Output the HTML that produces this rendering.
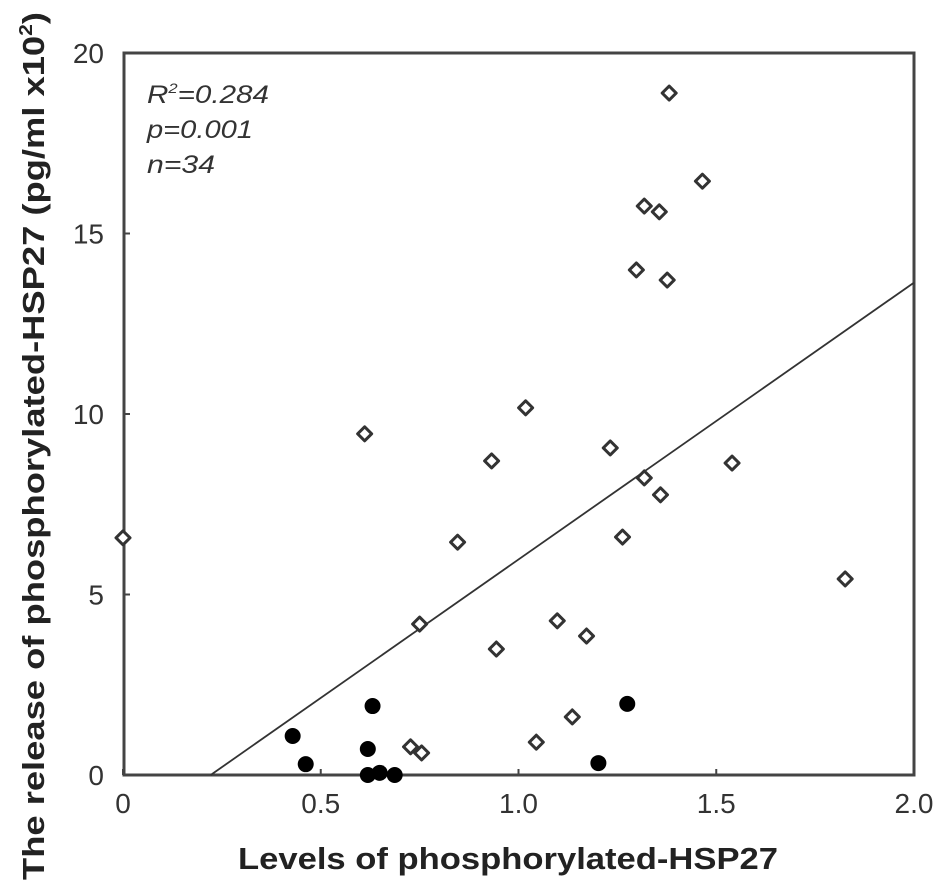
<!DOCTYPE html>
<html><head><meta charset="utf-8"><style>
html,body{margin:0;padding:0;background:#fff;width:945px;height:894px;overflow:hidden}
svg{display:block;font-family:"Liberation Sans",sans-serif}
</style></head><body>
<svg id="chart" width="945" height="894" viewBox="0 0 945 894">
<rect x="124" y="53" width="790" height="722" fill="none" stroke="#444" stroke-width="3"/>
<g id="ticks"></g>
<g id="marks"></g>
<text x="147" y="103" font-size="25" font-style="italic" fill="#333" textLength="122" lengthAdjust="spacingAndGlyphs">R<tspan font-size="14" dy="-10">2</tspan><tspan dy="10">=0.284</tspan></text>
<text x="147" y="138" font-size="25" font-style="italic" fill="#333" textLength="106" lengthAdjust="spacingAndGlyphs">p=0.001</text>
<text x="147" y="173" font-size="25" font-style="italic" fill="#333" textLength="68" lengthAdjust="spacingAndGlyphs">n=34</text>
<text x="508" y="869" font-size="31" font-weight="bold" text-anchor="middle" fill="#222" textLength="540" lengthAdjust="spacingAndGlyphs">Levels of phosphorylated-HSP27</text>
<text transform="translate(44,446) rotate(-90)" font-size="31" font-weight="bold" text-anchor="middle" fill="#222" textLength="868" lengthAdjust="spacingAndGlyphs">The release of phosphorylated-HSP27 (pg/ml x10<tspan font-size="18" dy="-12">2</tspan><tspan dy="12">)</tspan></text>
</svg>
<script>
const xTicks = [0, 0.5, 1.0, 1.5, 2.0];
const xTickLabels = ["0", "0.5", "1.0", "1.5", "2.0"];
const yTicks = [0, 5, 10, 15, 20];
const yTickLabels = ["0", "5", "10", "15", "20"];
const openX = [0, 0.611, 0.727, 0.755, 0.75, 0.846, 0.932, 0.944, 1.018, 1.045, 1.098, 1.172, 1.136, 1.232, 1.263, 1.318, 1.359, 1.298, 1.318, 1.356, 1.376, 1.381, 1.465, 1.540, 1.826];
const openY = [6.57, 9.45, 0.78, 0.61, 4.18, 6.45, 8.7, 3.49, 10.17, 0.91, 4.27, 3.85, 1.61, 9.06, 6.59, 8.23, 7.76, 13.99, 15.76, 15.6, 13.71, 18.89, 16.45, 8.64, 5.43];
const filledX = [0.429, 0.462, 0.631, 0.619, 0.619, 0.649, 0.687, 1.202, 1.275];
const filledY = [1.08, 0.3, 1.91, 0.72, 0, 0.06, 0, 0.33, 1.97];
const fitSlope = 7.67;
const fitIntercept = -1.70;

const NS = "http://www.w3.org/2000/svg";
const xs = v => 123 + v * 395.5;
const ys = v => 775 - v * 36.1;
const ticks = document.getElementById("ticks");
const marks = document.getElementById("marks");
function mk(tag, attrs, parent){const e=document.createElementNS(NS,tag);for(const k in attrs)e.setAttribute(k,attrs[k]);parent.appendChild(e);return e;}

xTicks.forEach((v,i)=>{
  const t = mk("line",{x1:xs(v),x2:xs(v),y1:775,y2:769,stroke:"#444","stroke-width":2},ticks);
  
  
  const l = mk("text",{x:xs(v),y:813,"font-size":28,"text-anchor":"middle",fill:"#333"},ticks);
  l.textContent = xTickLabels[i];
  
  
});
yTicks.forEach((v,i)=>{
  const t = mk("line",{x1:124,x2:130,y1:ys(v),y2:ys(v),stroke:"#444","stroke-width":2},ticks);
  
  
  const l = mk("text",{x:104,y:ys(v)+10,"font-size":28,"text-anchor":"end",fill:"#333"},ticks);
  l.textContent = yTickLabels[i];
  
  
});

const x0 = -fitIntercept / fitSlope;
const fit = mk("line",{x1:xs(x0),y1:ys(0),x2:xs(2),y2:ys(fitIntercept+fitSlope*2),stroke:"#333","stroke-width":1.8},marks);



openX.forEach((v,i)=>{
  const cx = xs(v), cy = ys(openY[i]), r = 7;
  const p = mk("polygon",{points:`${cx},${cy-r} ${cx+r},${cy} ${cx},${cy+r} ${cx-r},${cy}`,fill:"#fff",stroke:"#333","stroke-width":3,"stroke-linejoin":"round"},marks);
  
  
});
filledX.forEach((v,i)=>{
  const c = mk("circle",{cx:xs(v),cy:ys(filledY[i]),r:8,fill:"#000"},marks);
  
  
});
</script>
</body></html>
